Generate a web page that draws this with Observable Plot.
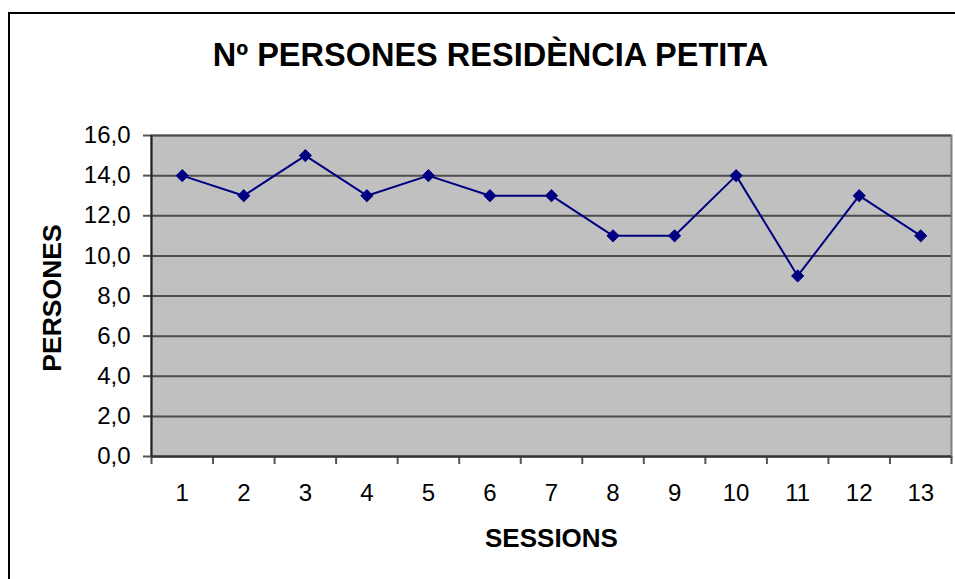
<!DOCTYPE html>
<html>
<head>
<meta charset="utf-8">
<script src="https://cdn.jsdelivr.net/npm/d3@7"></script>
<script src="https://cdn.jsdelivr.net/npm/@observablehq/plot@0.6"></script>
<style>
  html, body { margin: 0; padding: 0; background: #fff; }
  #wrap { position: relative; width: 955px; height: 579px; overflow: hidden; }
  #border { position: absolute; left: 8px; top: 12px; width: 1000px; height: 1000px; border: 2px solid #000; box-sizing: border-box; }
  #chart { position: absolute; left: 0; top: 0; }
  svg { font-family: Arial, "Liberation Sans", sans-serif; }
</style>
</head>
<body>
<div id="wrap"><div id="border"></div><div id="chart"></div></div>
<script>
const title = "Nº PERSONES RESIDÈNCIA PETITA";
const xTitle = "SESSIONS";
const yTitle = "PERSONES";
const sessions = [1, 2, 3, 4, 5, 6, 7, 8, 9, 10, 11, 12, 13];
const persons = [14, 13, 15, 13, 14, 13, 13, 11, 11, 14, 9, 13, 11];
const yTicks = [0, 2, 4, 6, 8, 10, 12, 14, 16];

const data = sessions.map((s, i) => ({session: s, persons: persons[i]}));
const boundaries = [0.5, ...sessions.map(s => s + 0.5)];
const fmt = d => d.toFixed(1).replace(".", ",");

const chart = Plot.plot({
  width: 955,
  height: 579,
  marginLeft: 151,
  marginRight: 4,
  marginTop: 135,
  marginBottom: 123,
  style: {background: "transparent", fontFamily: "Arial, 'Liberation Sans', sans-serif"},
  x: {type: "linear", domain: [0.5, 13.5]},
  y: {domain: [0, 16]},
  marks: [
    Plot.frame({fill: "#c0c0c0", stroke: "#808080", strokeWidth: 2}),
    Plot.gridY(yTicks, {stroke: "#4d4d4d", strokeOpacity: 1, strokeWidth: 2}),
    Plot.axisY(yTicks, {tickFormat: fmt, tickSize: 8, tickPadding: 13, fontSize: 24, stroke: "#555", strokeWidth: 2, label: null, color: "#000"}),
    Plot.axisX(boundaries, {tickFormat: () => "", tickSize: 8, stroke: "#555", strokeWidth: 2, label: null}),
    Plot.axisX(sessions, {tickFormat: d => String(d), tickSize: 0, tickPadding: 27, fontSize: 24, label: null}),
    Plot.ruleX([0.5], {stroke: "#222", strokeWidth: 2}),
    Plot.ruleY([0], {stroke: "#333", strokeWidth: 2}),
    Plot.line(data, {x: "session", y: "persons", stroke: "#000080", strokeWidth: 2}),
    Plot.dot(data, {x: "session", y: "persons", symbol: "diamond2", r: 5.5, fill: "#000080", stroke: "#000080", strokeWidth: 1}),
    Plot.text([title], {frameAnchor: "top", textAnchor: "middle", lineAnchor: "middle", dx: -61, dy: -80, fontSize: 32.5, fontWeight: "bold", fill: "#000"}),
    Plot.text([xTitle], {frameAnchor: "bottom", textAnchor: "middle", lineAnchor: "middle", dy: 82, fontSize: 26, fontWeight: "bold", fill: "#000"}),
    Plot.text([yTitle], {frameAnchor: "left", textAnchor: "middle", lineAnchor: "middle", dx: -99, dy: 2, rotate: -90, fontSize: 26.5, fontWeight: "bold", fill: "#000"})
  ]
});
document.getElementById("chart").appendChild(chart);
</script>
</body>
</html>
